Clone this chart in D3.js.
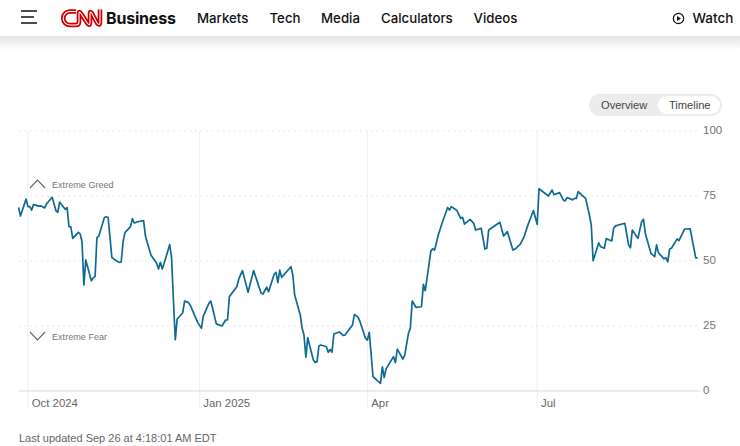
<!DOCTYPE html>
<html><head><meta charset="utf-8">
<script src="https://cdn.jsdelivr.net/npm/d3@7/dist/d3.min.js"></script>
<style>
html,body{margin:0;padding:0;background:#fff;overflow:hidden}
svg{display:block;font-family:"Liberation Sans",Arial,sans-serif}
.ui{font-family:Inter,"Liberation Sans",sans-serif}
</style></head><body><svg id="c" width="740" height="446"></svg>
<script>
const navItems = ["Markets","Tech","Media","Calculators","Videos"];
const yTicks = [0,25,50,75,100];
const xTickDates = ["2024-10-01","2025-01-01","2025-04-01","2025-07-01"];
const xTickLabels = ["Oct 2024","Jan 2025","Apr","Jul"];
const dates = [
"2024-09-26","2024-09-27","2024-09-30","2024-10-01","2024-10-02","2024-10-03","2024-10-04","2024-10-07","2024-10-08","2024-10-09","2024-10-10","2024-10-11","2024-10-14","2024-10-16","2024-10-17","2024-10-18","2024-10-21","2024-10-22","2024-10-23","2024-10-24","2024-10-25","2024-10-28","2024-10-29","2024-10-30","2024-10-31",
"2024-11-01","2024-11-04","2024-11-05","2024-11-06","2024-11-07","2024-11-08","2024-11-11","2024-11-12","2024-11-13","2024-11-14","2024-11-15","2024-11-18","2024-11-19","2024-11-20","2024-11-21","2024-11-22","2024-11-25","2024-11-26","2024-11-27","2024-11-29",
"2024-12-02","2024-12-03","2024-12-04","2024-12-05","2024-12-06","2024-12-09","2024-12-10","2024-12-11","2024-12-12","2024-12-13","2024-12-16","2024-12-17","2024-12-18","2024-12-19","2024-12-20","2024-12-23","2024-12-24","2024-12-26","2024-12-27","2024-12-31",
"2025-01-02","2025-01-03","2025-01-06","2025-01-07","2025-01-08","2025-01-10","2025-01-13","2025-01-15","2025-01-16","2025-01-17","2025-01-21","2025-01-22","2025-01-24","2025-01-27","2025-01-30",
"2025-02-03","2025-02-04","2025-02-06","2025-02-07","2025-02-10","2025-02-11","2025-02-12","2025-02-13","2025-02-14","2025-02-19","2025-02-20","2025-02-21","2025-02-24","2025-02-25","2025-02-26","2025-02-27","2025-02-28",
"2025-03-03","2025-03-04","2025-03-05","2025-03-06","2025-03-07","2025-03-10","2025-03-11","2025-03-12","2025-03-13","2025-03-14","2025-03-17","2025-03-19","2025-03-20","2025-03-24","2025-03-25","2025-03-27","2025-03-28","2025-03-31",
"2025-04-01","2025-04-02","2025-04-04","2025-04-05","2025-04-08","2025-04-09","2025-04-10","2025-04-11","2025-04-15","2025-04-16","2025-04-17","2025-04-20","2025-04-21","2025-04-23","2025-04-24","2025-04-25","2025-04-27","2025-04-30",
"2025-05-01","2025-05-02","2025-05-05","2025-05-06","2025-05-07","2025-05-09","2025-05-11","2025-05-14","2025-05-15","2025-05-16","2025-05-19","2025-05-21","2025-05-22","2025-05-23","2025-05-26","2025-05-28","2025-05-29",
"2025-06-01","2025-06-03","2025-06-04","2025-06-05","2025-06-11","2025-06-13","2025-06-15","2025-06-18","2025-06-19","2025-06-22","2025-06-24","2025-06-26","2025-06-29",
"2025-07-01","2025-07-02","2025-07-07","2025-07-09","2025-07-10","2025-07-13","2025-07-15","2025-07-16","2025-07-17","2025-07-20","2025-07-21","2025-07-22","2025-07-23","2025-07-27","2025-07-29","2025-07-30","2025-07-31",
"2025-08-03","2025-08-04","2025-08-06","2025-08-07","2025-08-10","2025-08-11","2025-08-12","2025-08-17","2025-08-19","2025-08-20","2025-08-21","2025-08-24","2025-08-26","2025-08-27","2025-08-28","2025-08-31",
"2025-09-02","2025-09-03","2025-09-04","2025-09-07","2025-09-08","2025-09-09","2025-09-10","2025-09-11","2025-09-14","2025-09-15","2025-09-18","2025-09-21","2025-09-24","2025-09-25"];
const values = [
70.6,67.3,73.8,70.9,70.9,69.6,71.7,71.1,71.2,70.8,70.4,72,74.5,69.4,68.7,72.6,69.9,70.5,63.2,63.1,58.7,61,60.4,57.4,40.8,
50.4,42.4,43.5,44.1,59,59.6,66.7,67,66.7,59,51.3,49.8,49.5,49.6,57.4,60.9,63.2,66.3,64.6,65.1,
65.5,59.6,57,54.6,52.2,49.1,46.9,49.5,46.9,49,56.3,51.4,35,19.7,27.7,30.1,34.6,34.1,33,26.4,
24.1,28.8,33.7,34.6,31.8,25.8,25,27.3,27.3,36.3,40.1,43,46.3,38,46.3,
37.6,37.3,39.9,38.2,44.9,45.6,41.7,46.5,43.7,47.8,44.6,36.9,29.2,24.1,21.5,13,20.5,
11.9,11,11.3,17.3,17.7,17,14.9,16,14.9,21.9,22.7,21.4,21.5,25.4,29.4,28.4,26.7,20.2,
19.6,22.6,5.5,4.9,2.9,9.3,5.2,8.5,13.2,10.9,16.1,12.3,13.8,22.2,24.1,34.6,32.2,32.4,
41,38.6,53.8,54.7,54.2,60,64.5,70.6,69.6,70.9,69.4,66.4,66.8,64.2,66,64.5,61.9,
62.6,54.6,54.9,61.9,64.9,59.6,61.3,54.2,54.5,56.5,59.4,63.8,69.4,
64.1,77.8,75,77.3,75.5,76.3,73.5,73.1,74.4,73.5,74.1,74.1,76.7,74,67.7,63.8,50.1,
57,55.5,54.9,58.6,57.7,62.6,63.5,64.5,56.2,55.1,61.9,58.7,65.1,66,60.6,52.9,
51.7,56.2,53.2,50.8,51.3,49.7,54.6,54.9,58.5,57.8,62.3,62.4,51.2,51.2];

const parse = d3.utcParse("%Y-%m-%d");
const svg = d3.select("#c");
const sans = "'Liberation Sans',Arial,sans-serif";

const x = d3.scaleUtc().domain([parse("2024-09-26"), parse("2025-09-25")]).range([18.6, 697.6]);
const y = d3.scaleLinear().domain([0, 100]).range([391, 131]);

// grid
const gridV = svg.append("g");
gridV.selectAll("line").data(xTickDates).join("line")
  .attr("x1", d => x(parse(d))).attr("x2", d => x(parse(d)))
  .attr("y1", 131).attr("y2", 408).attr("stroke", "#eff1f3").attr("stroke-width", 1.2);
const gridH = svg.append("g");
gridH.selectAll("line").data(yTicks.filter(t => t > 0)).join("line")
  .attr("x1", 19).attr("x2", 700).attr("y1", d => y(d)).attr("y2", d => y(d))
  .attr("stroke", "#e6e6e6").attr("stroke-width", 1).attr("stroke-dasharray", "2 3.5");
svg.append("line").attr("x1", 19).attr("x2", 700).attr("y1", y(0)).attr("y2", y(0))
  .attr("stroke", "#dcdcdc").attr("stroke-width", 1.2);

// axes
const yAxis = d3.axisRight(y).tickValues(yTicks).tickSize(0).tickPadding(0);
const gy = svg.append("g").attr("transform", "translate(703,-0.7)").call(yAxis);
gy.select(".domain").remove();
gy.selectAll("text").attr("font-size", 11.5).attr("fill", "#737373").attr("font-family", sans);

const xAxis = d3.axisBottom(x).tickValues(xTickDates.map(parse))
  .tickFormat((d, i) => xTickLabels[i]).tickSize(0).tickPadding(0);
const gx = svg.append("g").attr("transform", "translate(0,399)").call(xAxis);
gx.select(".domain").remove();
gx.selectAll("text").attr("text-anchor", "start").attr("dx", 3.3).attr("font-size", 11.4)
  .attr("fill", "#666").attr("font-family", sans);

// series
const line = d3.line().x((d, i) => x(parse(dates[i]))).y((d) => y(d));
svg.append("path").datum(values).attr("d", line).attr("fill", "none")
  .attr("stroke", "#0e6a93").attr("stroke-width", 1.7).attr("stroke-linejoin", "round");

// zone labels
const zones = [{t:"Extreme Greed", p:"M30,188 L37.5,180 L45,188"},{t:"Extreme Fear", p:"M30,332 L37.5,340 L45,332"}];
svg.append("g").selectAll("path").data(zones).join("path").attr("d", d => d.p)
  .attr("fill", "none").attr("stroke", "#666").attr("stroke-width", 1.1);
svg.append("text").attr("x", 52).attr("y", 188.2).text(zones[0].t).attr("font-size", 9.1).attr("fill", "#777");
svg.append("text").attr("x", 52).attr("y", 340).text(zones[1].t).attr("font-size", 9.1).attr("fill", "#777");

// toggle
svg.append("rect").attr("x", 589).attr("y", 94).attr("width", 133).attr("height", 22).attr("rx", 11).attr("fill", "#ececec");
svg.append("rect").attr("x", 658).attr("y", 96).attr("width", 62).attr("height", 18).attr("rx", 9).attr("fill", "#fff");
svg.append("text").attr("x", 601).attr("y", 108.5).text("Overview").attr("font-size", 11.1).attr("fill", "#444");
svg.append("text").attr("x", 669).attr("y", 108.5).text("Timeline").attr("font-size", 11.1).attr("fill", "#444");

// footer
svg.append("text").attr("x", 19).attr("y", 442).text("Last updated Sep 26 at 4:18:01 AM EDT")
  .attr("font-size", 11).attr("fill", "#666");

// header
const defs = svg.append("defs");
const grad = defs.append("linearGradient").attr("id", "sh").attr("x1", 0).attr("x2", 0).attr("y1", 0).attr("y2", 1);
grad.append("stop").attr("offset", 0).attr("stop-color", "#e4e4e4");
grad.append("stop").attr("offset", 1).attr("stop-color", "#fff");
svg.append("rect").attr("x", 0).attr("y", 36).attr("width", 740).attr("height", 14).attr("fill", "url(#sh)");
svg.append("rect").attr("x", 0).attr("y", 0).attr("width", 740).attr("height", 36).attr("fill", "#fff");

svg.append("path").attr("d", "M21,11H37M21,17H34M21,23H37").attr("stroke", "#111").attr("stroke-width", 1.6).attr("fill", "none");

const logo = "M76,11.5H70A6.75,6.75 0 0 0 70,25H76Q79,25 79,22V13.5Q79,10.5 81,13.5L87.5,23.5Q90,26.5 90,22.5V13.5Q90,10.5 92,13.5L97,23Q100,26.5 100,22V9.5";
svg.append("path").attr("d", logo).attr("fill", "none").attr("stroke", "#cc0000").attr("stroke-width", 4.6);
svg.append("path").attr("d", logo).attr("fill", "none").attr("stroke", "#fff").attr("stroke-width", 1.1);
svg.append("text").attr("class", "ui").attr("x", 106).attr("y", 24).text("Business").attr("font-size", 16).attr("font-weight", 700).attr("fill", "#111").attr("letter-spacing", -0.2);

const navX = [197, 269.5, 321, 381, 473.5];
svg.append("g").selectAll("text").data(navItems).join("text").attr("class", "ui")
  .attr("x", (d, i) => navX[i]).attr("y", 22.5).text(d => d)
  .attr("font-size", 13.25).attr("font-weight", 500).attr("fill", "#111");

svg.append("circle").attr("cx", 678.5).attr("cy", 18.5).attr("r", 5.2).attr("fill", "none").attr("stroke", "#111").attr("stroke-width", 1.2);
svg.append("path").attr("d", "M677,16L681,18.5L677,21Z").attr("fill", "#111");
svg.append("text").attr("class", "ui").attr("x", 692.5).attr("y", 23).text("Watch").attr("font-size", 13.5).attr("font-weight", 500).attr("fill", "#111");
</script></body></html>
